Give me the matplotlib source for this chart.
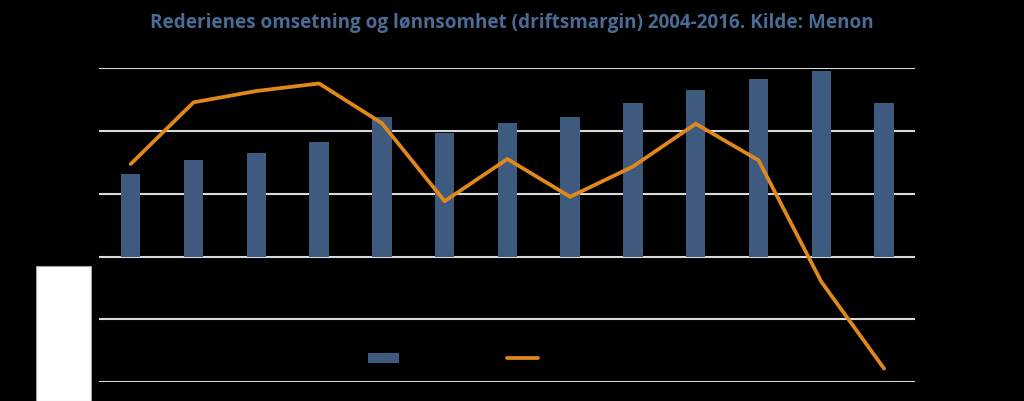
import numpy as np
import matplotlib.pyplot as plt
from matplotlib.patches import Rectangle

# Data
years = [str(y) for y in range(2004, 2017)]
omsetning = [65.5, 76.6, 82.2, 90.9, 110.7, 98.3, 105.9, 110.7, 121.6, 132.3, 140.8, 147.4, 121.6]
driftsmargin = [14.7, 24.5, 26.3, 27.5, 21.2, 8.8, 15.5, 9.5, 14.3, 21.1, 15.3, -4.0, -17.8]

bar_color = '#3e5a7e'
line_color = '#e0881c'
title_color = '#4b6b95'

fig = plt.figure(figsize=(10.24, 4.02), dpi=100, facecolor='black')
ax = fig.add_axes([0.097, 0.0462, 0.797, 0.7828])
ax.set_facecolor('black')

x_pos = np.arange(len(years))
ax.bar(x_pos, omsetning, width=0.31, color=bar_color, zorder=2, label='Omsetning')
ax.set_xlim(-0.5, len(years) - 0.5)
ax.set_ylim(-100, 150)
ax.set_yticks(np.arange(-100, 151, 50))
ax.yaxis.grid(True, color='#d9d9d9', linewidth=1.5, zorder=0)
ax.set_axisbelow(True)
ax.set_xticks(x_pos)
ax.set_xticklabels(years)
ax.tick_params(colors='black', labelcolor='black', length=0)
for s in ax.spines.values():
    s.set_visible(False)

ax2 = ax.twinx()
ax2.plot(x_pos, driftsmargin, color=line_color, linewidth=2.7, zorder=3,
         solid_joinstyle='round', solid_capstyle='round', label='Driftsmargin')
ax2.set_ylim(-20, 30)
ax2.set_yticks(np.arange(-20, 31, 10))
ax2.tick_params(colors='black', labelcolor='black', length=0)
for s in ax2.spines.values():
    s.set_visible(False)

fig.text(0.5, 0.942, 'Rederienes omsetning og lønnsomhet (driftsmargin) 2004-2016. Kilde: Menon',
         ha='center', va='center', color=title_color, fontsize=13.6, fontweight='bold',
         family='Open Sans')

h1, l1 = ax.get_legend_handles_labels()
h2, l2 = ax2.get_legend_handles_labels()
leg = fig.legend(h1 + h2, l1 + l2, loc='center left', bbox_to_anchor=(0.359, 0.104),
                 ncol=2, frameon=False, fontsize=10, handlelength=2.25,
                 handletextpad=0.5, columnspacing=1.8, borderpad=0, borderaxespad=0)
for t in leg.get_texts():
    t.set_color('black')

# white box at lower left
fig.patches.append(Rectangle((35.7 / 1024, 0), 55.3 / 1024, 135.3 / 402,
                             transform=fig.transFigure, facecolor='white',
                             edgecolor='#a0a0a0', linewidth=0.8))

plt.savefig('out.png', dpi=100, facecolor='black')
